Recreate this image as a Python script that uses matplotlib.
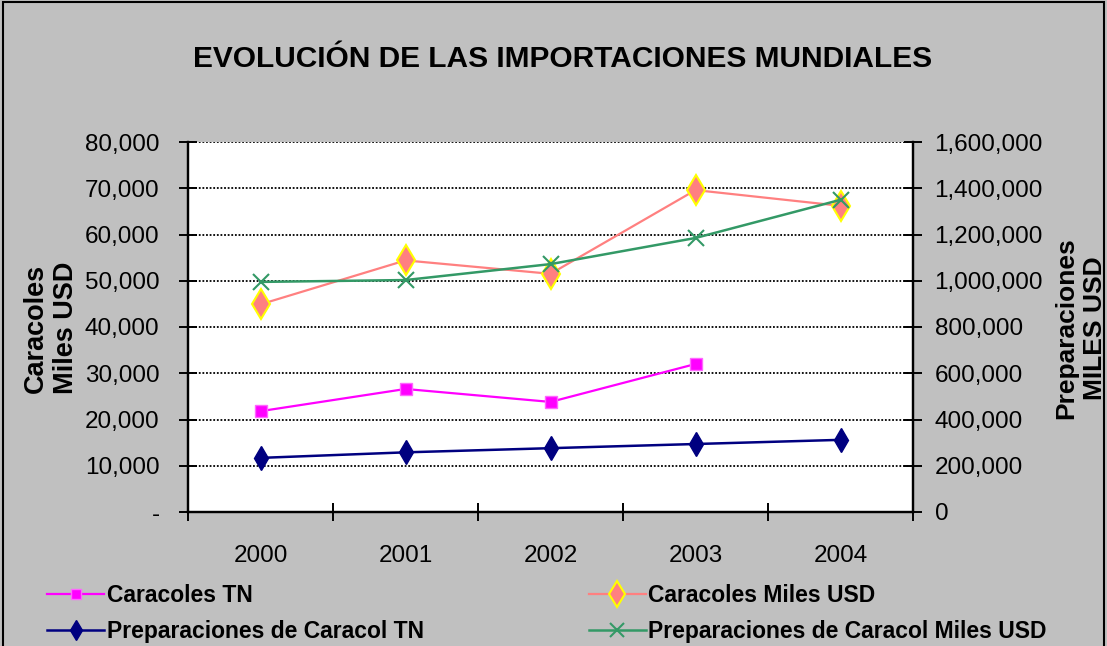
import matplotlib
matplotlib.use("Agg")
import matplotlib.pyplot as plt
from matplotlib import font_manager
from matplotlib.ticker import FuncFormatter, FixedLocator
from matplotlib.patches import Rectangle
import numpy as np

years = ["2000", "2001", "2002", "2003", "2004"]
caracoles_tn = [21800, 26600, 23800, 32000, np.nan]
caracoles_usd = [44900, 54400, 51500, 69600, 66200]
prep_tn = [11700, 12900, 13800, 14700, 15600]
prep_usd = [995000, 1003000, 1072000, 1185000, 1350000]

names = [f.name for f in font_manager.fontManager.ttflist]
font = "Liberation Sans" if "Liberation Sans" in names else "DejaVu Sans"
plt.rcParams["font.family"] = font

bg = "#C0C0C0"
fig = plt.figure(figsize=(11.07, 6.46), dpi=100, facecolor=bg)
ax = fig.add_axes([188 / 1107, 134 / 646, 725 / 1107, 370 / 646])
ax.set_facecolor("white")
ax2 = ax.twinx()

x = np.arange(len(years))

l1, = ax.plot(x, caracoles_tn, color="#FF00FF", lw=1.6, marker="s",
              ms=8, mfc="#FF00FF", mec="#FF66FF", zorder=5)
l2, = ax.plot(x, caracoles_usd, color="#FF8080", lw=1.6, marker="d",
              ms=15, mfc="#FF8080", mec="#FFFF00", mew=1.5, zorder=5)
l3, = ax.plot(x, prep_tn, color="#000080", lw=1.8, marker="d",
              ms=12, mfc="#000080", mec="#000080", zorder=5)
l4, = ax2.plot(x, prep_usd, color="#339966", lw=1.8, marker="x",
               ms=12, mew=1.5, zorder=5)

ax.set_xlim(-0.5, 4.5)
ax.set_ylim(0, 80000)
ax2.set_ylim(0, 1600000)
ax.set_yticks(np.arange(0, 80001, 10000))
ax2.set_yticks(np.arange(0, 1600001, 200000))
ax.yaxis.set_major_formatter(FuncFormatter(lambda v, p: "-" if v == 0 else f"{int(v):,}"))
ax2.yaxis.set_major_formatter(FuncFormatter(lambda v, p: f"{int(v):,}"))

ax.xaxis.set_major_locator(FixedLocator(np.arange(-0.5, 5, 1)))
ax.xaxis.set_major_formatter(FuncFormatter(lambda v, p: ""))
ax.xaxis.set_minor_locator(FixedLocator(x))
ax.set_xticklabels(years, minor=True)

ax.grid(axis="y", color="black", lw=1.3, linestyle=(0, (1, 1)))
ax.set_axisbelow(True)

for a in (ax, ax2):
    for s in a.spines.values():
        s.set_linewidth(1.6)
    a.spines["top"].set_visible(False)

ax.tick_params(axis="y", direction="inout", length=13, width=1.4, labelsize=17.5, pad=14)
ax2.tick_params(axis="y", direction="inout", length=13, width=1.4, labelsize=17.5, pad=9)
ax.tick_params(axis="x", which="major", direction="inout", length=13, width=1.4)
ax.tick_params(axis="x", which="minor", length=0, labelsize=17.5, pad=24)

fig.text(563 / 1107, 1 - 59 / 646, "EVOLUCIÓN DE LAS IMPORTACIONES MUNDIALES",
         ha="center", va="center", fontsize=21.5, fontweight="bold")
fig.text(51 / 1107, 1 - 328 / 646, "Caracoles\nMiles USD", rotation=90,
         ha="center", va="center", fontsize=19.5, fontweight="bold",
         multialignment="center", linespacing=1.2)
fig.text(1081 / 1107, 1 - 328 / 646, "Preparaciones\nMILES USD", rotation=90,
         ha="center", va="center", fontsize=19, fontweight="bold",
         multialignment="center", linespacing=1.25)

handles = [l1, l3, l2, l4]
labels = ["Caracoles TN", "Preparaciones de Caracol TN",
          "Caracoles Miles USD", "Preparaciones de Caracol Miles USD"]
fig.legend(handles, labels, ncol=2, loc="upper left",
           bbox_to_anchor=(38 / 1107, 1 - 575 / 646), frameon=False,
           prop={"weight": "bold", "size": 16.5}, handlelength=2.5,
           handletextpad=0.1, columnspacing=7.2, labelspacing=0.55,
           borderaxespad=0, markerscale=0.85)

fig.add_artist(Rectangle((3 / 1107, -0.02), 1101 / 1107, 1 - 2 / 646 + 0.02,
                         transform=fig.transFigure, fill=False,
                         edgecolor="black", lw=1.5))

fig.savefig("out.png", dpi=100, facecolor=bg)
